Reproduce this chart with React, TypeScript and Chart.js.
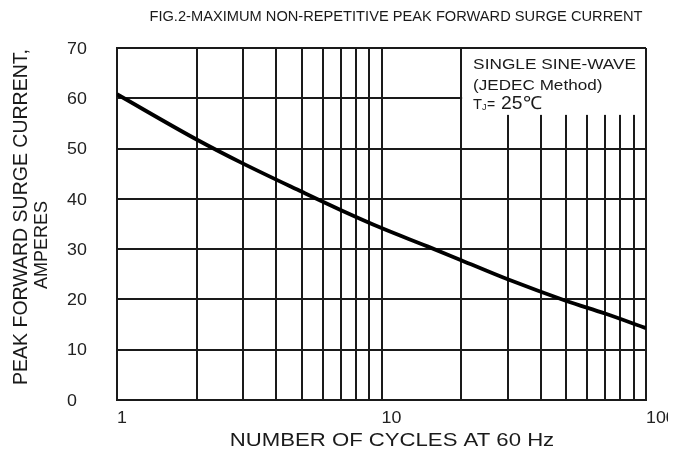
import React, { useEffect, useRef } from "react";
import { Chart, registerables } from "chart.js";

Chart.register(...registerables);

const cycles = [1, 2, 3, 5, 7, 10, 15, 20, 30, 50, 70, 100];
const amperes = [60.8, 51.8, 47.0, 41.4, 37.8, 34.2, 30.5, 27.8, 24.0, 19.7, 17.2, 14.3];
const xGrid = [1, 2, 3, 4, 5, 6, 7, 8, 9, 10, 20, 30, 40, 50, 60, 70, 80, 90, 100];
const xLabels = [1, 10, 100];
const yTicks = [0, 10, 20, 30, 40, 50, 60, 70];
const boxTopValue = 56.7;
const boxLeftValue = 20;

const FONT = "'Liberation Sans', Arial, sans-serif";

function txt(ctx: CanvasRenderingContext2D, s: string, x: number, y: number, size: number, align: CanvasTextAlign = "left", sx = 1, color = "#1a1a1a") {
  ctx.save();
  ctx.font = `${size}px ${FONT}`;
  ctx.fillStyle = color;
  ctx.textBaseline = "middle";
  ctx.textAlign = align;
  ctx.translate(x, y);
  ctx.scale(sx, 1);
  ctx.fillText(s, 0, 0);
  ctx.restore();
}

const annot = {
  id: "annot",
  beforeDatasetsDraw(chart: any) {
    const { ctx, chartArea, scales } = chart;
    const x = scales.x, y = scales.y;
    const bx = x.getPixelForValue(boxLeftValue);
    const by = y.getPixelForValue(boxTopValue);
    ctx.save();
    ctx.fillStyle = "#fff";
    ctx.fillRect(bx + 1, chartArea.top + 1, chartArea.right - bx - 2, by - chartArea.top - 1);
    ctx.restore();
    txt(ctx, "SINGLE SINE-WAVE", bx + 12, 65, 15, "left", 1.15);
    txt(ctx, "(JEDEC Method)", bx + 12, 86, 15, "left", 1.14);
    txt(ctx, "T", bx + 12, 105, 14, "left", 1.05);
    txt(ctx, "J", bx + 21, 108, 9, "left", 1);
    txt(ctx, "=", bx + 26, 105, 14, "left", 1);
    txt(ctx, "25℃", bx + 40, 104, 18, "left", 1.07);
  },
  afterDraw(chart: any) {
    const { ctx, scales } = chart;
    const x = scales.x, y = scales.y;
    yTicks.forEach((v) => txt(ctx, String(v), 67, y.getPixelForValue(v) + 1, 17, "left", 1.05, "#222"));
    ctx.save();
    ctx.beginPath();
    ctx.rect(0, 0, 668, 456);
    ctx.clip();
    xLabels.forEach((v) => txt(ctx, String(v), x.getPixelForValue(v), 418, 17, "left", 1.05, "#222"));
    ctx.restore();
    txt(ctx, "FIG.2-MAXIMUM NON-REPETITIVE PEAK FORWARD SURGE CURRENT", 396, 17, 14.5, "center", 1.01);
    txt(ctx, "NUMBER OF CYCLES AT 60 Hz", 392, 441, 18, "center", 1.23);
    ctx.save();
    ctx.translate(22, 217);
    ctx.rotate(-Math.PI / 2);
    txt(ctx, "PEAK FORWARD SURGE CURRENT,", 0, 0, 19.5, "center", 1);
    ctx.restore();
    ctx.save();
    ctx.translate(42, 245);
    ctx.rotate(-Math.PI / 2);
    txt(ctx, "AMPERES", 0, 0, 18, "center", 1);
    ctx.restore();
  },
};

export default function App() {
  const ref = useRef<HTMLCanvasElement>(null);
  useEffect(() => {
    if (!ref.current) return;
    const gridColor = "#1a1a1a";
    const chart = new Chart(ref.current, {
      type: "line",
      data: {
        datasets: [
          {
            data: cycles.map((c, i) => ({ x: c, y: amperes[i] })),
            borderColor: "#000",
            borderWidth: 3.8,
            pointRadius: 0,
            cubicInterpolationMode: "monotone",
            tension: 0.4,
          },
        ],
      },
      options: {
        animation: false,
        responsive: false,
        maintainAspectRatio: false,
        layout: { padding: { left: 117, right: 38, top: 48, bottom: 56 } },
        plugins: { legend: { display: false }, tooltip: { enabled: false }, title: { display: false } },
        scales: {
          x: {
            type: "logarithmic",
            min: 1,
            max: 100,
            afterBuildTicks: (s: any) => { s.ticks = xGrid.map((v) => ({ value: v })); },
            afterFit: (s: any) => { s.height = 0; },
            ticks: { display: false },
            grid: { color: gridColor, lineWidth: 2, drawTicks: false },
            border: { color: gridColor, width: 2 },
          },
          y: {
            type: "linear",
            min: 0,
            max: 70,
            afterBuildTicks: (s: any) => { s.ticks = yTicks.map((v) => ({ value: v })); },
            afterFit: (s: any) => { s.width = 0; },
            ticks: { display: false },
            grid: { color: gridColor, lineWidth: 2, drawTicks: false },
            border: { color: gridColor, width: 2 },
          },
        },
      },
      plugins: [annot],
    } as any);
    return () => chart.destroy();
  }, []);
  return (
    <div style={{ position: "absolute", left: 0, top: 0, width: 684, height: 456, background: "#fff" }}>
      <canvas ref={ref} width={684} height={456} style={{ width: 684, height: 456, display: "block" }} />
    </div>
  );
}
